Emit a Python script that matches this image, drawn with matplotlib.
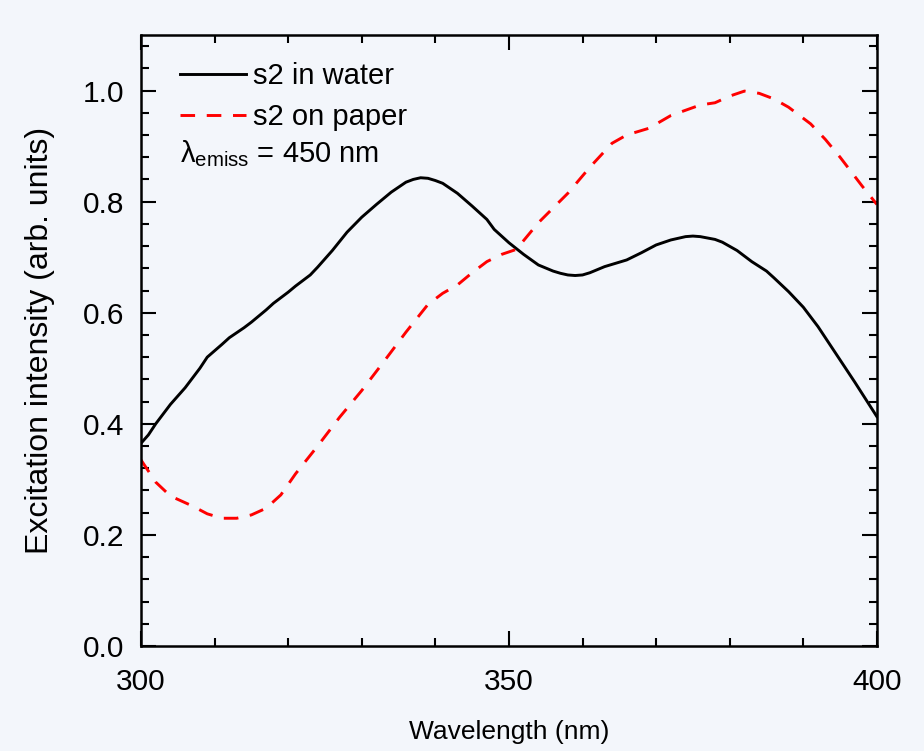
import matplotlib
matplotlib.use("Agg")
import matplotlib.pyplot as plt
from matplotlib.ticker import MultipleLocator, FormatStrFormatter

# Data
water_x = [300, 301, 302, 304, 306, 308, 309, 311, 312, 314, 315, 317, 318, 320, 321,
           323, 324, 326, 328, 330, 332, 334, 336, 337, 338, 339, 340, 341, 343, 345,
           347, 348, 350, 352, 354, 356, 357, 358, 359, 360, 361, 363, 366, 368, 370,
           372, 374, 375, 376, 378, 379, 381, 383, 385, 386, 388, 390, 392, 394, 397, 400]
water_y = [0.365, 0.38, 0.40, 0.435, 0.465, 0.50, 0.52, 0.543, 0.555, 0.573, 0.583,
           0.605, 0.617, 0.637, 0.648, 0.668, 0.682, 0.712, 0.745, 0.772, 0.795, 0.817,
           0.835, 0.840, 0.843, 0.842, 0.838, 0.833, 0.815, 0.792, 0.768, 0.75, 0.726,
           0.705, 0.686, 0.675, 0.671, 0.668, 0.667, 0.668, 0.672, 0.683, 0.695, 0.708,
           0.722, 0.731, 0.737, 0.738, 0.737, 0.732, 0.727, 0.712, 0.692, 0.675, 0.663,
           0.638, 0.610, 0.575, 0.535, 0.475, 0.413]

paper_x = [300, 302, 304, 307, 309, 311, 313, 315, 317, 319, 321, 324, 327, 330, 333,
           336, 339, 341, 343, 345, 347, 349, 351, 354, 358, 361, 364, 366, 369, 372,
           376, 378, 380, 382, 384, 386, 388, 391, 393, 395, 398, 400]
paper_y = [0.335, 0.295, 0.27, 0.252, 0.238, 0.230, 0.230, 0.236, 0.248, 0.272, 0.310,
           0.36, 0.412, 0.46, 0.512, 0.565, 0.615, 0.635, 0.650, 0.672, 0.692, 0.705,
           0.714, 0.762, 0.815, 0.862, 0.905, 0.920, 0.932, 0.955, 0.974, 0.978, 0.99,
           0.999, 0.995, 0.985, 0.970, 0.940, 0.912, 0.880, 0.828, 0.795]

labels = ["s2 in water", "s2 on paper"]
note = "λ$_{\\mathrm{emiss}}$ = 450 nm"
xlabel = "Wavelength (nm)"
ylabel = "Excitation intensity (arb. units)"

plt.rcParams['font.family'] = ['Liberation Sans', 'DejaVu Sans']
plt.rcParams['mathtext.fontset'] = 'custom'
plt.rcParams['mathtext.rm'] = 'Liberation Sans'
plt.rcParams['mathtext.it'] = 'Liberation Sans:italic'

bg = '#f3f6fb'
fig = plt.figure(figsize=(9.24, 7.51), dpi=100, facecolor=bg)
ax = fig.add_axes([0.1526, 0.1398, 0.949 - 0.1526, 0.9534 - 0.1398], facecolor=bg)

ax.plot(water_x, water_y, color='black', lw=2.1, label=labels[0],
        solid_joinstyle='round')
ax.plot(paper_x, paper_y, color='#ff0000', lw=2.1, ls=(0, (5, 4)), label=labels[1])

ax.set_xlim(300, 400)
ax.set_ylim(0, 1.1)
ax.xaxis.set_major_locator(MultipleLocator(50))
ax.xaxis.set_minor_locator(MultipleLocator(10))
ax.yaxis.set_major_locator(MultipleLocator(0.2))
ax.yaxis.set_minor_locator(MultipleLocator(0.04))
ax.yaxis.set_major_formatter(FormatStrFormatter('%.1f'))

ax.tick_params(which='both', direction='in', top=True, right=True, width=1.5,
               labelsize=21.5)
ax.tick_params(which='major', length=11)
ax.tick_params(axis='x', which='major', pad=16)
ax.tick_params(axis='y', which='major', pad=12)
ax.tick_params(which='minor', length=6)
for s in ax.spines.values():
    s.set_linewidth(1.8)

ax.set_xlabel(xlabel, fontsize=19, labelpad=17)
ax.set_ylabel(ylabel, fontsize=23, labelpad=20)

leg = ax.legend(loc='upper left', bbox_to_anchor=(0.053, 0.956), frameon=False,
                fontsize=21, handlelength=2.25, handletextpad=0.25, labelspacing=0.45,
                borderaxespad=0, borderpad=0)
ax.text(0.053, 0.806, note, transform=ax.transAxes, fontsize=21, va='center', ha='left')

fig.savefig("out.png", dpi=100, facecolor=bg)
